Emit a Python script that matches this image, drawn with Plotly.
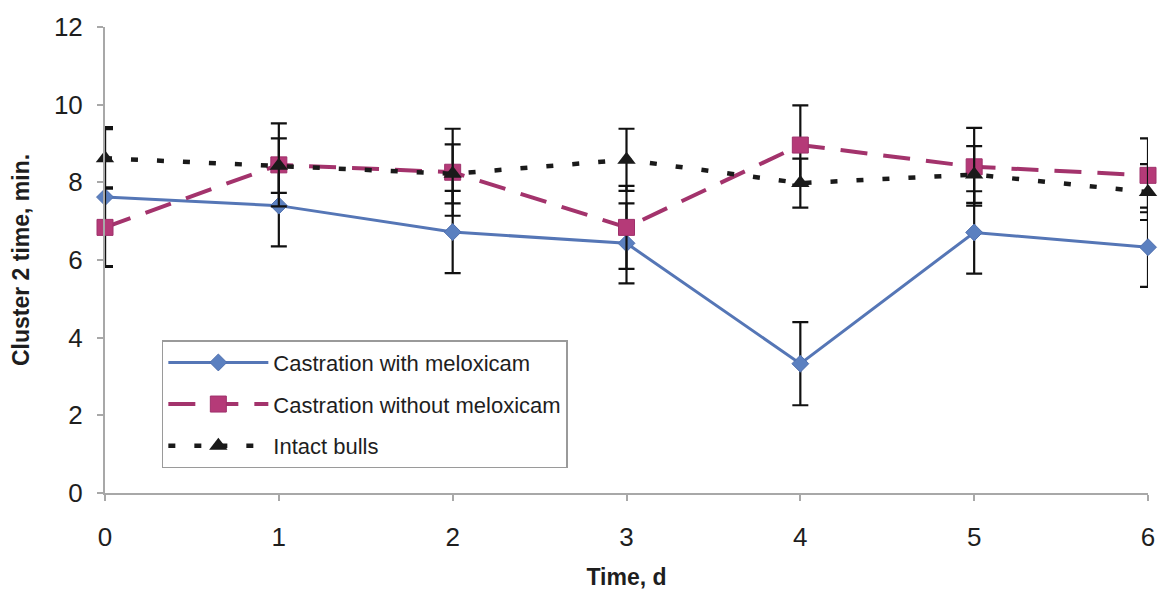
import plotly.graph_objects as go

# Days after treatment
days = [0, 1, 2, 3, 4, 5, 6]

# Mean cluster 2 time (min) and standard errors per group
with_meloxicam = [7.62, 7.40, 6.72, 6.43, 3.33, 6.71, 6.33]
with_meloxicam_se = [1.80, 1.05, 1.06, 1.03, 1.07, 1.06, 1.02]

without_meloxicam = [6.84, 8.45, 8.26, 6.84, 8.96, 8.40, 8.18]
without_meloxicam_se = [1.00, 1.07, 1.12, 1.07, 1.02, 1.00, 0.95]

intact_bulls = [8.62, 8.43, 8.22, 8.58, 7.98, 8.20, 7.75]
intact_bulls_se = [0.75, 0.70, 0.76, 0.80, 0.63, 0.73, 0.72]

series_names = ["Castration with meloxicam", "Castration without meloxicam", "Intact bulls"]
y_ticks = [0, 2, 4, 6, 8, 10, 12]

FONT = "Liberation Sans, Arial, sans-serif"
TEXT = "#1e1e1e"


def err(se):
    return dict(type="data", array=se, visible=True, color="#111111",
                thickness=2.2, width=8)


fig = go.Figure()

fig.add_trace(go.Scatter(
    x=days, y=with_meloxicam, name=series_names[0], legendgroup="a",
    mode="lines+markers",
    line=dict(color="#5576B6", width=3),
    marker=dict(symbol="diamond", size=13, color="#5B80C0",
                line=dict(color="#4F6FAE", width=1)),
    error_y=err(with_meloxicam_se), cliponaxis=False,
))

fig.add_trace(go.Scatter(
    x=days, y=without_meloxicam, name=series_names[1], legendgroup="b",
    mode="lines+markers",
    line=dict(color="#A3336C", width=4, dash="27px,16px"),
    marker=dict(symbol="square", size=16, color="#B53A78",
                line=dict(color="#9E306A", width=1)),
    error_y=err(without_meloxicam_se), cliponaxis=False,
))

fig.add_trace(go.Scatter(
    x=days, y=intact_bulls, name=series_names[2], legendgroup="c",
    mode="lines+markers",
    line=dict(color="#1a1a1a", width=4.5, dash="7px,19px"),
    marker=dict(symbol="triangle-up", size=16, color="#1a1a1a"),
    error_y=err(intact_bulls_se), cliponaxis=False,
))

fig.update_layout(
    width=1167, height=598,
    margin=dict(l=105, r=17, t=23, b=105),
    paper_bgcolor="white", plot_bgcolor="white",
    font=dict(family=FONT, color=TEXT),
    showlegend=True,
    legend=dict(
        x=0.0545, y=0.328, xanchor="left", yanchor="top",
        bgcolor="white", bordercolor="#9a9a9a", borderwidth=1.5,
        font=dict(family=FONT, size=22, color=TEXT),
        tracegroupgap=10, itemwidth=100,
    ),
)

fig.update_xaxes(
    range=[0, 6], tickmode="array", tickvals=days,
    showgrid=False, zeroline=False,
    showline=True, linecolor="#a8a8a8", linewidth=2,
    ticks="outside", ticklen=6, tickcolor="#a8a8a8", tickwidth=1.5,
    tickfont=dict(family=FONT, size=26, color=TEXT),
    ticklabelstandoff=14,
    title=dict(text="<b>Time, d</b>", font=dict(family=FONT, size=23, color=TEXT),
               standoff=18),
)

fig.update_yaxes(
    range=[0, 12], tickmode="array", tickvals=y_ticks,
    showgrid=False, zeroline=False,
    showline=True, linecolor="#a8a8a8", linewidth=2,
    ticks="outside", ticklen=6, tickcolor="#a8a8a8", tickwidth=1.5,
    tickfont=dict(family=FONT, size=26, color=TEXT),
    ticklabelstandoff=9,
    title=dict(text="<b>Cluster 2 time, min.</b>", font=dict(family=FONT, size=23, color=TEXT),
               standoff=18),
)

fig.write_html("out.html")
